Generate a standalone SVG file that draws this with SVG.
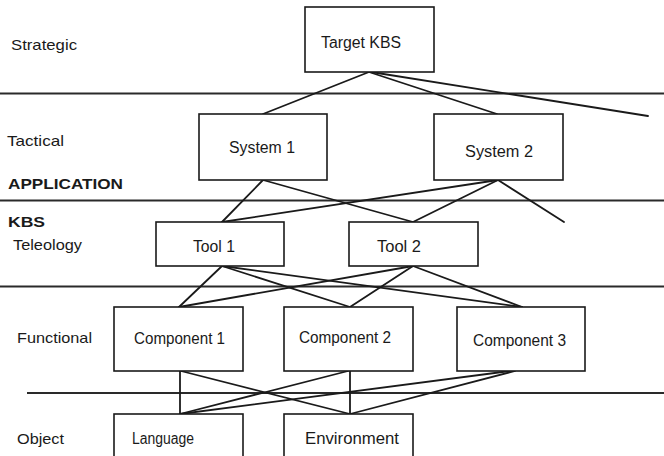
<svg xmlns="http://www.w3.org/2000/svg" width="664" height="456" viewBox="0 0 664 456">
<style>
  .bg { fill: #ffffff; }
  .box rect { fill: #ffffff; stroke: #1a1a1a; stroke-width: 1.6; }
  .box text { font-family: "Liberation Sans", Arial, Helvetica, sans-serif; font-size: 16px; fill: #1a1a1a; }
  .lbl { font-family: "Liberation Sans", Arial, Helvetica, sans-serif; font-size: 15px; fill: #1a1a1a; }
  .lblb { font-family: "Liberation Sans", Arial, Helvetica, sans-serif; font-size: 15px; font-weight: bold; fill: #1a1a1a; }
  .hline { stroke: #2a2a2a; stroke-width: 2; fill: none; }
  .conn line { stroke: #1a1a1a; stroke-width: 1.8; stroke-linecap: round; }
</style>
<rect class="bg" x="0" y="0" width="664" height="456"/>

<g id="level-labels">
  <text class="lbl" x="11" y="50" textLength="66" lengthAdjust="spacingAndGlyphs">Strategic</text>
  <text class="lbl" x="7" y="146" textLength="57" lengthAdjust="spacingAndGlyphs">Tactical</text>
  <text class="lblb" x="8" y="189" textLength="115" lengthAdjust="spacingAndGlyphs">APPLICATION</text>
  <text class="lblb" x="8" y="227" textLength="37" lengthAdjust="spacingAndGlyphs">KBS</text>
  <text class="lbl" x="13" y="250" textLength="69" lengthAdjust="spacingAndGlyphs">Teleology</text>
  <text class="lbl" x="17" y="343" textLength="75" lengthAdjust="spacingAndGlyphs">Functional</text>
  <text class="lbl" x="17" y="444" textLength="47" lengthAdjust="spacingAndGlyphs">Object</text>
</g>

<g id="level-dividers">
  <line class="hline" x1="0" y1="93.5" x2="664" y2="93.5"/>
  <line class="hline" x1="0" y1="200.5" x2="664" y2="200.5"/>
  <line class="hline" x1="0" y1="286.5" x2="664" y2="286.5"/>
  <line class="hline" x1="27" y1="393" x2="664" y2="393"/>
</g>

<g id="connectors" class="conn">
  <line x1="369" y1="72" x2="263" y2="114"/>
  <line x1="369" y1="72" x2="497" y2="114"/>
  <line x1="371" y1="72" x2="648" y2="116"/>

  <line x1="263" y1="180" x2="222" y2="222"/>
  <line x1="263" y1="180" x2="413" y2="222"/>
  <line x1="498" y1="180" x2="222" y2="222"/>
  <line x1="498" y1="180" x2="413" y2="222"/>
  <line x1="498" y1="180" x2="564" y2="222"/>

  <line x1="222" y1="266" x2="179" y2="307"/>
  <line x1="222" y1="266" x2="350" y2="307"/>
  <line x1="222" y1="266" x2="522" y2="307"/>
  <line x1="413" y1="266" x2="179" y2="307"/>
  <line x1="413" y1="266" x2="350" y2="307"/>
  <line x1="413" y1="266" x2="522" y2="307"/>

  <line x1="180" y1="371" x2="180" y2="414"/>
  <line x1="350" y1="371" x2="350" y2="414"/>
  <line x1="181" y1="371" x2="350" y2="414"/>
  <line x1="348" y1="371" x2="180" y2="414"/>
  <line x1="510" y1="371" x2="180" y2="414"/>
  <line x1="515" y1="371" x2="350" y2="414"/>
</g>

<g id="target-kbs" class="box">
  <rect x="305" y="7" width="129" height="65"/>
  <text x="321" y="48" textLength="80" lengthAdjust="spacingAndGlyphs">Target KBS</text>
</g>
<g id="system-1" class="box">
  <rect x="199" y="114" width="128" height="66"/>
  <text x="229" y="153" textLength="66" lengthAdjust="spacingAndGlyphs">System 1</text>
</g>
<g id="system-2" class="box">
  <rect x="434" y="114" width="129" height="66"/>
  <text x="465" y="157" textLength="68" lengthAdjust="spacingAndGlyphs">System 2</text>
</g>
<g id="tool-1" class="box">
  <rect x="156" y="222" width="128" height="44"/>
  <text x="193" y="252" textLength="42" lengthAdjust="spacingAndGlyphs">Tool 1</text>
</g>
<g id="tool-2" class="box">
  <rect x="349" y="222" width="129" height="44"/>
  <text x="377" y="252" textLength="44" lengthAdjust="spacingAndGlyphs">Tool 2</text>
</g>
<g id="component-1" class="box">
  <rect x="114" y="307" width="129" height="64"/>
  <text x="134" y="344" textLength="91" lengthAdjust="spacingAndGlyphs">Component 1</text>
</g>
<g id="component-2" class="box">
  <rect x="284" y="307" width="129" height="64"/>
  <text x="299" y="343" textLength="92" lengthAdjust="spacingAndGlyphs">Component 2</text>
</g>
<g id="component-3" class="box">
  <rect x="457" y="307" width="128" height="64"/>
  <text x="473" y="346" textLength="93" lengthAdjust="spacingAndGlyphs">Component 3</text>
</g>
<g id="language" class="box">
  <rect x="114" y="414" width="129" height="50"/>
  <text x="132" y="444" textLength="62" lengthAdjust="spacingAndGlyphs">Language</text>
</g>
<g id="environment" class="box">
  <rect x="284" y="414" width="129" height="50"/>
  <text x="305" y="444" textLength="94" lengthAdjust="spacingAndGlyphs">Environment</text>
</g>
</svg>
